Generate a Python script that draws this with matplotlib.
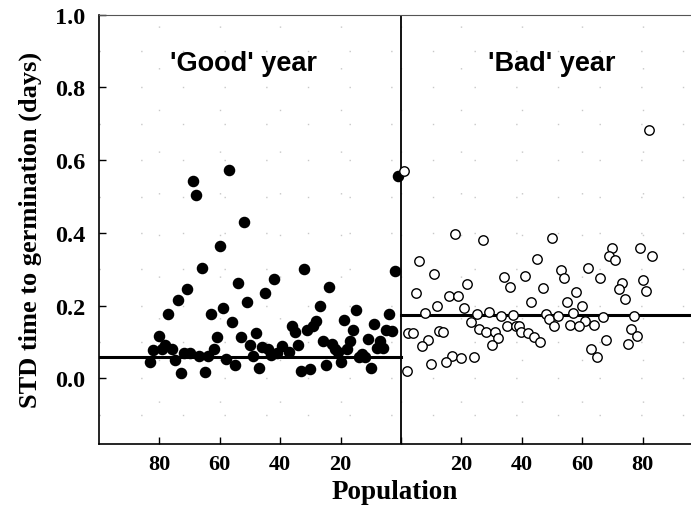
import matplotlib
matplotlib.use("Agg")
import matplotlib.pyplot as plt

# 'Good' year: population number and STD time to germination (days)
good_pop = [57, 69, 68, 52, 60, 66, 71, 54, 74, 51, 59, 77, 63, 56, 80, 61, 53,
            78, 82, 79, 76, 72, 70, 62, 67, 64, 83, 75, 58, 55, 73, 65, 50,
            32, 42, 45, 24, 27, 15, 2, 1, 4, 19, 9, 36, 35, 28, 29, 31, 16, 5,
            3, 48, 11, 26, 17, 7, 23, 34, 46, 44, 39.5, 8, 6, 22, 21, 18, 41,
            37, 43, 49, 14, 12, 13, 20, 47, 33, 30, 25, 10]
good_std = [0.572, 0.542, 0.505, 0.429, 0.365, 0.304, 0.247, 0.263, 0.215, 0.21,
            0.193, 0.176, 0.176, 0.155, 0.117, 0.115, 0.113, 0.093, 0.077, 0.082,
            0.081, 0.071, 0.071, 0.08, 0.061, 0.061, 0.046, 0.051, 0.054, 0.038,
            0.015, 0.018, 0.092,
            0.302, 0.274, 0.234, 0.252, 0.2, 0.188, 0.295, 0.556, 0.177, 0.162,
            0.149, 0.145, 0.128, 0.159, 0.144, 0.132, 0.133, 0.133, 0.13, 0.124,
            0.109, 0.103, 0.104, 0.104, 0.094, 0.092, 0.086, 0.082, 0.09, 0.084,
            0.085, 0.08, 0.073, 0.081, 0.071, 0.073, 0.064, 0.063, 0.058, 0.06,
            0.066, 0.044, 0.028, 0.02, 0.027, 0.036, 0.029]

# 'Bad' year
bad_pop = [1, 18, 27, 50, 6, 45, 11, 34, 41, 22, 36, 47, 5, 16, 19, 43, 12, 21,
           8, 25, 29, 33, 37, 48, 49, 50.6, 23, 35, 38, 39, 2.4, 4, 12.7, 14,
           25.8, 28, 31, 39.7, 42, 44, 46, 9, 32, 7, 30, 17, 20, 24, 15, 10, 1.9,
           82, 70, 79, 69, 83, 71, 53, 62, 54, 66, 80, 73, 72, 81, 58, 74, 55,
           60, 57, 52, 67, 77, 61, 56, 59, 64, 76, 78, 68, 75, 63, 65]
bad_std = [0.57, 0.396, 0.38, 0.387, 0.323, 0.329, 0.286, 0.28, 0.282, 0.259,
           0.251, 0.25, 0.234, 0.226, 0.226, 0.211, 0.2, 0.195, 0.179, 0.178,
           0.182, 0.172, 0.175, 0.177, 0.164, 0.145, 0.155, 0.144, 0.144, 0.144,
           0.126, 0.126, 0.131, 0.129, 0.135, 0.127, 0.128, 0.128, 0.126, 0.115,
           0.1, 0.105, 0.11, 0.089, 0.092, 0.061, 0.056, 0.058, 0.044, 0.039,
           0.02,
           0.682, 0.359, 0.358, 0.338, 0.338, 0.326, 0.298, 0.303, 0.277, 0.277,
           0.272, 0.263, 0.245, 0.24, 0.237, 0.218, 0.21, 0.2, 0.18, 0.173,
           0.169, 0.173, 0.157, 0.146, 0.143, 0.148, 0.137, 0.117, 0.107, 0.094,
           0.08, 0.06]

good_line = 0.06
bad_line = 0.175

x_ticks = [-80, -60, -40, -20, 0, 20, 40, 60, 80]
x_labels = ['80', '60', '40', '20', '', '20', '40', '60', '80']
y_ticks = [0.0, 0.2, 0.4, 0.6, 0.8, 1.0]

fig = plt.figure(figsize=(6.91, 5.10), dpi=100)
ax = fig.add_axes([0.1433, 0.1275, 0.8567, 0.8417])

# dotted grid
for xv in x_ticks:
    ax.axvline(xv, color='#c8c8c8', lw=1.0, ls=(0, (1, 29)), zorder=0)
for yv in [-0.1, 0.0, 0.1, 0.2, 0.3, 0.4, 0.5, 0.6, 0.7, 0.8, 0.9]:
    ax.axhline(yv, color='#c8c8c8', lw=1.0, ls=(0, (1, 29)), zorder=0)

ax.axvline(0, color='black', lw=1.3, zorder=2)
ax.plot([-100, 0], [good_line, good_line], color='black', lw=2.2, zorder=2)
ax.plot([0, 96], [bad_line, bad_line], color='black', lw=2.2, zorder=2)

ax.plot([-p for p in good_pop], good_std, 'o', color='black', ms=7.3,
        mec='black', zorder=3)
ax.plot(bad_pop, bad_std, 'o', mfc='white', mec='black', ms=6.8, mew=1.0,
        zorder=3)

ax.set_xlim(-100, 96)
ax.set_ylim(-0.18, 1.0)
ax.set_xticks(x_ticks)
ax.set_xticklabels(x_labels)
ax.set_yticks(y_ticks)
ax.set_yticklabels(['%.1f' % v for v in y_ticks])
ax.tick_params(direction='in', length=5, width=1)
ax.tick_params(axis='x', pad=7)
ax.tick_params(axis='y', pad=10)
for lab in ax.get_xticklabels():
    lab.set_fontfamily('Liberation Serif')
    lab.set_fontweight('bold')
    lab.set_fontsize(16)
for lab in ax.get_yticklabels():
    lab.set_fontfamily('Liberation Serif')
    lab.set_fontweight('bold')
    lab.set_fontsize(17.5)

ax.spines['right'].set_visible(False)
ax.spines['top'].set_color('#555555')
ax.spines['left'].set_linewidth(1.2)
ax.spines['bottom'].set_linewidth(1.2)

ax.set_ylabel('STD time to germination (days)', family='Liberation Serif',
              fontweight='bold', fontsize=19, labelpad=9)
ax.set_xlabel('Population', family='Liberation Serif', fontweight='bold',
              fontsize=19.5, labelpad=4)

ax.text(-52, 0.868, "'Good' year", family='Liberation Sans', fontweight='bold',
        fontsize=19.5, ha='center', va='center')
ax.text(50, 0.868, "'Bad' year", family='Liberation Sans', fontweight='bold',
        fontsize=19.5, ha='center', va='center')

fig.savefig('out.png', dpi=100)
